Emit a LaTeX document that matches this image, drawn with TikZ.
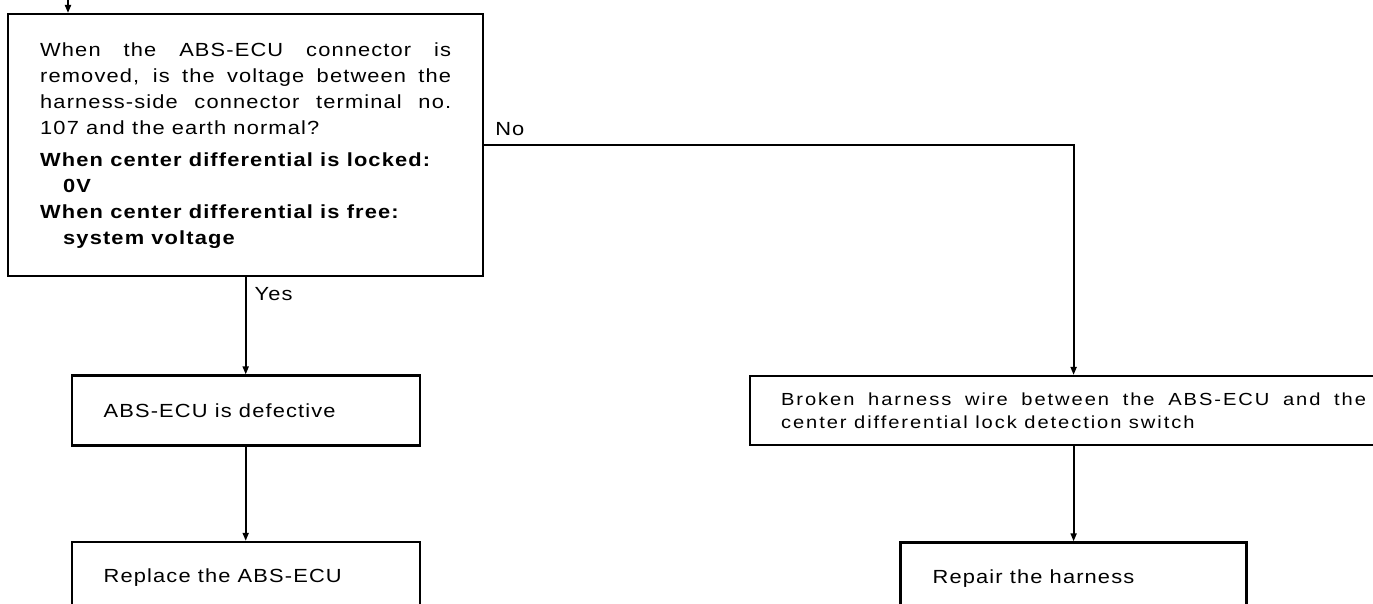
\documentclass[tikz,border=0pt]{standalone}
\usepackage{fontspec}
\setmainfont{Liberation Sans}[FakeStretch=1.15,LetterSpace=6]
\usetikzlibrary{arrows.meta,positioning,calc}
\setlength{\parindent}{0pt}
\hyphenpenalty=10000
\exhyphenpenalty=10000

\begin{document}
\begin{tikzpicture}[x=1pt,y=-1pt,box/.style={draw,line width=2.4pt,inner xsep=32pt,inner ysep=0pt,
  align=justify,font=\fontsize{19}{26}\selectfont},arr/.style={-{Triangle[length=8pt,width=6pt]},line width=1.8pt},
  lbl/.style={font=\fontsize{19}{26}\selectfont,inner sep=0pt}]
  \useasboundingbox (0,0) rectangle (1373,604);
  \clip (0,0) rectangle (1373,604);
  \node[box,text width=411pt,minimum height=262pt,anchor=north west] (q) at (7,13)
    {When the ABS-ECU connector is\linebreak removed, is the voltage between the\linebreak
    harness-side connector terminal no.\linebreak 107 and the earth normal?\par\vspace{6pt}
    \textbf{When center differential is locked:}\par
    \hspace*{23pt}\textbf{0V}\par
    \textbf{When center differential is free:}\par
    \hspace*{23pt}\textbf{system voltage}};
  \node[box,text width=284pt,minimum height=70pt,below=97pt of q] (d) {ABS-ECU is defective};
  \node[box,text width=284pt,minimum height=72pt,below=94pt of d] (e) {Replace the ABS-ECU};
  \node[box,text width=585pt,inner xsep=31pt,minimum height=69pt,
    font=\fontsize{17.5}{23}\selectfont\addfontfeature{LetterSpace=11},
    right=328pt of d] (r) {Broken harness wire between the ABS-ECU and the\linebreak
    center differential lock detection switch};
  \node[box,text width=282pt,minimum height=72pt,below=95pt of r] (s) {Repair the harness};
  \coordinate (entry) at (68,0);
  \draw[arr] (entry)--(entry |- q.north);
  \draw[arr] (q)--node[lbl,pos=0.17,right=8pt]{Yes}(d);
  \draw[arr] (q.east)-|node[lbl,pos=0,anchor=south west,xshift=10pt,yshift=9pt]{No}(r.north);
  \draw[arr] (d)--(e);
  \draw[arr] (r)--(s);
\end{tikzpicture}
\end{document}
